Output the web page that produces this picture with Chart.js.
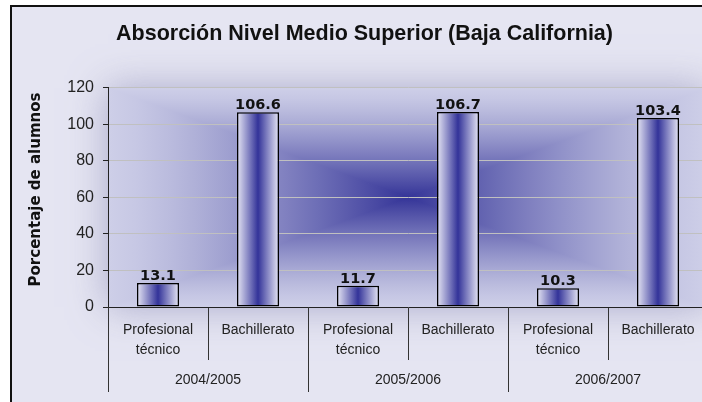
<!DOCTYPE html>
<html>
<head>
<meta charset="utf-8">
<script src="https://cdn.jsdelivr.net/npm/chart.js@4.4.0/dist/chart.umd.min.js"></script>
<style>
  html, body { margin: 0; padding: 0; overflow: hidden; background: #fff; }
  #wrap { position: absolute; left: 0; top: 0; width: 730px; height: 420px; }
</style>
</head>
<body>
<div id="wrap"><canvas id="c" width="730" height="420"></canvas></div>
<script>
// ---- data ----
const chartTitle = 'Absorción Nivel Medio Superior (Baja California)';
const yTitle = 'Porcentaje de alumnos';
const groups = ['2004/2005', '2005/2006', '2006/2007'];
const groupSizes = [2, 2, 2];
const categories = [['Profesional', 'técnico'], 'Bachillerato', ['Profesional', 'técnico'], 'Bachillerato', ['Profesional', 'técnico'], 'Bachillerato'];
const values = [13.1, 106.6, 11.7, 106.7, 10.3, 103.4];
const yMin = 0, yMax = 120, yStep = 20;

const BAR_PCT = 0.42;
const PLOT_EDGE = [206, 207, 232];
const PLOT_CENTER = [52, 52, 152];

function rgb(a) { return 'rgb(' + a.map(v => Math.round(v)).join(',') + ')'; }
function mix(a, b, t) { return a.map((v, i) => v + (b[i] - v) * t); }

function addStops(g, edge, center) {
  for (let k = 0; k <= 10; k++) {
    const t = k / 10;
    g.addColorStop(t, rgb(mix(edge, center, Math.pow(t, 1.3))));
  }
}

function rectGradient(ctx, x0, y0, x1, y1, edge, center) {
  const cx = (x0 + x1) / 2, cy = (y0 + y1) / 2;
  const tris = [
    [[x0, y0], [x1, y0], x0, y0, x0, cy],   // top
    [[x1, y1], [x0, y1], x0, y1, x0, cy],   // bottom
    [[x0, y0], [x0, y1], x0, y0, cx, y0],   // left
    [[x1, y0], [x1, y1], x1, y0, cx, y0]    // right
  ];
  ctx.save();
  ctx.beginPath();
  ctx.rect(x0, y0, x1 - x0, y1 - y0);
  ctx.clip();
  for (const t of tris) {
    const g = ctx.createLinearGradient(t[2], t[3], t[4], t[5]);
    addStops(g, edge, center);
    ctx.fillStyle = g;
    ctx.strokeStyle = g;
    ctx.lineWidth = 1.2;
    ctx.beginPath();
    ctx.moveTo(t[0][0], t[0][1]);
    ctx.lineTo(t[1][0], t[1][1]);
    ctx.lineTo(cx, cy);
    ctx.closePath();
    ctx.fill();
    ctx.stroke();
  }
  ctx.restore();
}

const bgPlugin = {
  id: 'bg',
  beforeDraw(chart) {
    const ctx = chart.ctx, a = chart.chartArea;
    ctx.save();
    ctx.fillStyle = '#ffffff';
    ctx.fillRect(0, 0, chart.width, chart.height);
    ctx.fillStyle = '#e5e5f2';
    ctx.fillRect(11, 6, chart.width, chart.height);
    // soft glow around plot area
    ctx.save();
    ctx.beginPath();
    ctx.rect(11, 6, chart.width, chart.height);
    ctx.clip();
    ctx.shadowColor = 'rgba(150,150,190,0.75)';
    ctx.shadowBlur = 36;
    ctx.fillStyle = rgb(PLOT_EDGE);
    ctx.fillRect(a.left, a.top, a.right - a.left, a.bottom - a.top);
    ctx.restore();
    rectGradient(ctx, a.left, a.top, a.right, a.bottom, PLOT_EDGE, PLOT_CENTER);
    ctx.restore();
  },
  afterDraw(chart) {
    const ctx = chart.ctx, xs = chart.scales.x;
    ctx.save();
    // outer border
    ctx.strokeStyle = '#111';
    ctx.lineWidth = 2;
    ctx.strokeRect(11, 6, chart.width + 20, chart.height + 20);
    // y axis title
    ctx.fillStyle = '#111';
    ctx.font = 'bold 15px "DejaVu Sans"';
    ctx.textAlign = 'center';
    ctx.textBaseline = 'middle';
    ctx.translate(36, 189.5);
    ctx.rotate(-Math.PI / 2);
    ctx.fillText(yTitle, 0, 0);
    ctx.restore();

    // group separators and labels
    ctx.save();
    const half = xs.width / categories.length / 2;
    ctx.strokeStyle = '#333';
    ctx.lineWidth = 1;
    ctx.fillStyle = '#222';
    ctx.font = '14px "Liberation Sans"';
    ctx.textAlign = 'center';
    ctx.textBaseline = 'middle';
    let idx = 0;
    const bounds = [];
    groups.forEach((g, gi) => {
      const first = idx, last = idx + groupSizes[gi] - 1;
      const l = xs.getPixelForValue(first) - half;
      const r = xs.getPixelForValue(last) + half;
      bounds.push(l, r);
      ctx.fillText(g, (l + r) / 2, 380);
      idx += groupSizes[gi];
    });
    for (const b of bounds) {
      const xx = Math.round(b) + 0.5;
      ctx.beginPath();
      ctx.moveTo(xx, xs.top);
      ctx.lineTo(xx, 392);
      ctx.stroke();
    }
    ctx.restore();
  },
  afterDatasetsDraw(chart) {
    const ctx = chart.ctx;
    const meta = chart.getDatasetMeta(0);
    ctx.save();
    ctx.fillStyle = '#111';
    ctx.font = 'bold 14.5px "DejaVu Sans"';
    ctx.textAlign = 'center';
    ctx.textBaseline = 'alphabetic';
    meta.data.forEach((el, i) => {
      ctx.fillText(values[i].toFixed(1), el.x, el.y - 3);
    });
    ctx.restore();
  }
};

function barFill(context) {
  const chart = context.chart;
  const xs = chart.scales.x;
  if (!chart.chartArea || !xs || context.dataIndex === undefined) return rgb(PLOT_CENTER);
  const cx = xs.getPixelForValue(context.dataIndex);
  const w = xs.width / categories.length * BAR_PCT;
  const g = chart.ctx.createLinearGradient(cx - w / 2, 0, cx + w / 2, 0);
  g.addColorStop(0, '#e6e6f4');
  g.addColorStop(0.5, '#333399');
  g.addColorStop(1, '#e6e6f4');
  return g;
}

new Chart(document.getElementById('c'), {
  type: 'bar',
  data: {
    labels: categories,
    datasets: [{
      data: values,
      backgroundColor: barFill,
      borderColor: '#000',
      borderWidth: 1.5,
      borderSkipped: false,
      barPercentage: BAR_PCT,
      categoryPercentage: 1
    }]
  },
  plugins: [bgPlugin],
  options: {
    responsive: false,
    animation: false,
    events: [],
    layout: { padding: { left: 21, right: 22, top: 0, bottom: 18 } },
    plugins: {
      legend: { display: false },
      tooltip: { enabled: false },
      title: {
        display: true,
        text: chartTitle,
        color: '#111',
        font: { family: 'Liberation Sans', weight: 'bold', size: 21.5 },
        padding: { top: 21, bottom: 41 }
      }
    },
    scales: {
      x: {
        afterFit(s) { s.height = 95; },
        grid: { offset: true, drawOnChartArea: false, tickLength: 53, color: '#333', tickWidth: 1 },
        border: { display: true, color: '#222', width: 1 },
        ticks: {
          color: '#222',
          padding: -40,
          maxRotation: 0,
          autoSkip: false,
          font: { family: 'Liberation Sans', size: 14, lineHeight: 1.43 }
        }
      },
      y: {
        min: yMin,
        max: yMax,
        afterFit(s) { s.width = 87; },
        grid: { color: '#c0c0c0', tickColor: '#222', tickLength: 5, lineWidth: 1 },
        border: { display: true, color: '#222', width: 1 },
        ticks: {
          stepSize: yStep,
          color: '#222',
          padding: 9,
          font: { family: 'Liberation Sans', size: 16 }
        }
      }
    }
  }
});
</script>
</body>
</html>
